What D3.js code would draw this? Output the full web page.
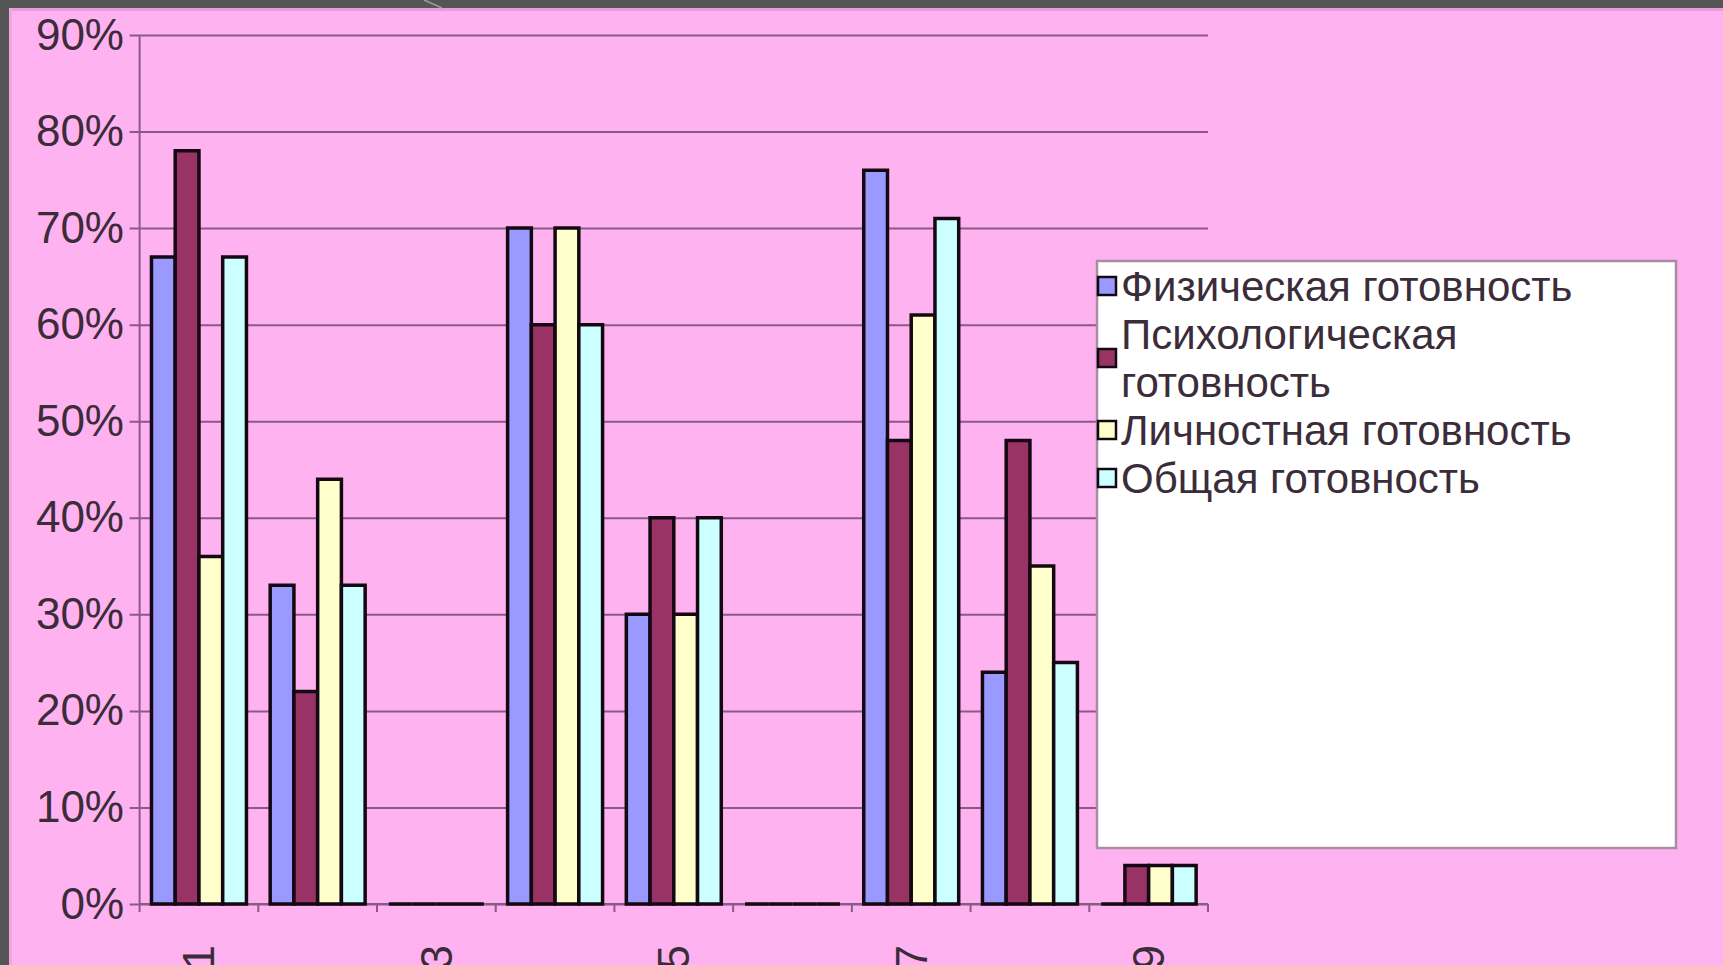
<!DOCTYPE html>
<html>
<head>
<meta charset="utf-8">
<style>
body { margin: 0; background: #555555; }
svg text { font-family: "Liberation Sans", Arial, sans-serif; fill: #3b2c3a; }
.grid line { stroke: #8a5a86; stroke-width: 2px; }
.bar { stroke: #140812; stroke-width: 3.5px; }
</style>
</head>
<body>
<script src="https://d3js.org/d3.v7.min.js"></script>
<script>
// categories 1..9, only odd ones get a label on the chart
var categories = ["1", "2", "3", "4", "5", "6", "7", "8", "9"];
var xLabels = ["1", "3", "5", "7", "9"];
var yTicks = [0, 10, 20, 30, 40, 50, 60, 70, 80, 90];

var seriesNames = ["Физическая готовность", "Психологическая готовность",
                   "Личностная готовность", "Общая готовность"];
var seriesColors = ["#9999ff", "#993366", "#ffffcc", "#ccffff"];

// values in %
var physical = [67, 33, 0, 70, 30, 0, 76, 24, 0];
var psych    = [78, 22, 0, 60, 40, 0, 48, 48, 4];
var personal = [36, 44, 0, 70, 30, 0, 61, 35, 4];
var overall  = [67, 33, 0, 60, 40, 0, 71, 25, 4];

var series = [physical, psych, personal, overall];

var W = 1723, H = 965;
var plot = { left: 139.6, right: 1208, top: 35, bottom: 904 };

var svg = d3.select("body").append("svg")
    .attr("width", W)
    .attr("height", H);

// slide background
svg.append("rect").attr("x", 0).attr("y", 0).attr("width", W).attr("height", H).attr("fill", "#555555");
svg.append("rect").attr("x", 9).attr("y", 8).attr("width", W - 9).attr("height", H - 8).attr("fill", "#ffb2f0");
svg.append("rect").attr("x", 9).attr("y", 8).attr("width", W - 9).attr("height", 3).attr("fill", "#e89cda");
svg.append("rect").attr("x", 9).attr("y", 8).attr("width", 3).attr("height", H - 8).attr("fill", "#f0a6e2");
svg.append("line").attr("x1", 424).attr("y1", 0).attr("x2", 442).attr("y2", 8)
    .attr("stroke", "#9a9a9a").attr("stroke-width", 1.5);

// scales
var x = d3.scaleBand().domain(categories).range([plot.left, plot.right])
    .paddingInner(0.2).paddingOuter(0.1);
var xs = d3.scaleBand().domain(d3.range(series.length)).range([0, x.bandwidth()]);
var y = d3.scaleLinear().domain([0, 90]).range([plot.bottom, plot.top]);

// horizontal grid lines + y axis
var yAxis = d3.axisLeft(y)
    .tickValues(yTicks)
    .tickSize(-(plot.right - plot.left))
    .tickSizeOuter(0)
    .tickPadding(20)
    .tickFormat(function (d) { return d + "%"; });

var ya = svg.append("g")
    .attr("class", "grid")
    .attr("transform", "translate(" + plot.left + ",0)")
    .call(yAxis);
ya.select(".domain").remove();
ya.selectAll(".tick line").attr("x1", -10);
ya.selectAll(".tick text")
    .style("font-size", "44px")
    .attr("dx", "0.1em");

svg.append("line")
    .attr("x1", plot.left).attr("x2", plot.left)
    .attr("y1", plot.top).attr("y2", plot.bottom)
    .attr("stroke", "#8a5a86").attr("stroke-width", 2);

// x axis: line, boundary ticks, rotated labels
svg.append("line")
    .attr("x1", plot.left).attr("x2", plot.right)
    .attr("y1", plot.bottom).attr("y2", plot.bottom)
    .attr("stroke", "#8a5a86").attr("stroke-width", 2);

svg.selectAll("line.xtick")
    .data(d3.range(categories.length + 1))
  .enter().append("line")
    .attr("class", "xtick")
    .attr("x1", function (i) { return plot.left + i * x.step(); })
    .attr("x2", function (i) { return plot.left + i * x.step(); })
    .attr("y1", plot.bottom)
    .attr("y2", plot.bottom + 8)
    .attr("stroke", "#8a5a86").attr("stroke-width", 2);

svg.selectAll("text.xlab")
    .data(xLabels)
  .enter().append("text")
    .attr("class", "xlab")
    .attr("transform", function (d) {
      return "translate(" + (x(d) + x.bandwidth() / 2) + ",945) rotate(-90)";
    })
    .attr("dy", "0.35em")
    .style("text-anchor", "end")
    .style("font-size", "44px")
    .text(function (d) { return d; });

// bars (paths so that zero values still show as a line)
series.forEach(function (vals, s) {
  svg.selectAll("path.bar-s" + s)
      .data(vals)
    .enter().append("path")
      .attr("class", "bar bar-s" + s)
      .attr("fill", seriesColors[s])
      .attr("d", function (v, i) {
        var x0 = x(categories[i]) + xs(s);
        var x1 = x0 + xs.bandwidth();
        return "M" + x0 + "," + y(0) + "V" + y(v) + "H" + x1 + "V" + y(0) + "Z";
      });
});

// legend
var legend = svg.append("g");
legend.append("rect")
    .attr("x", 1097).attr("y", 261)
    .attr("width", 579).attr("height", 587)
    .attr("fill", "#ffffff")
    .attr("stroke", "#a88ea2")
    .attr("stroke-width", 2.5);

var rowH = 48, firstRow = 286;
var legendRows = [
  { lines: ["Физическая готовность"], row: 0 },
  { lines: ["Психологическая", "готовность"], row: 1 },
  { lines: ["Личностная готовность"], row: 3 },
  { lines: ["Общая готовность"], row: 4 }
];

legendRows.forEach(function (r, s) {
  var cy = firstRow + (r.row + (r.lines.length - 1) / 2) * rowH;
  legend.append("rect")
      .attr("x", 1098).attr("y", cy - 9)
      .attr("width", 18).attr("height", 18)
      .attr("fill", seriesColors[s])
      .attr("stroke", "#140812")
      .attr("stroke-width", 2.5);
  r.lines.forEach(function (t, k) {
    legend.append("text")
        .attr("x", 1121)
        .attr("y", firstRow + (r.row + k) * rowH)
        .attr("dy", "0.35em")
        .style("font-size", "42px")
        .text(t);
  });
});
</script>
</body>
</html>
